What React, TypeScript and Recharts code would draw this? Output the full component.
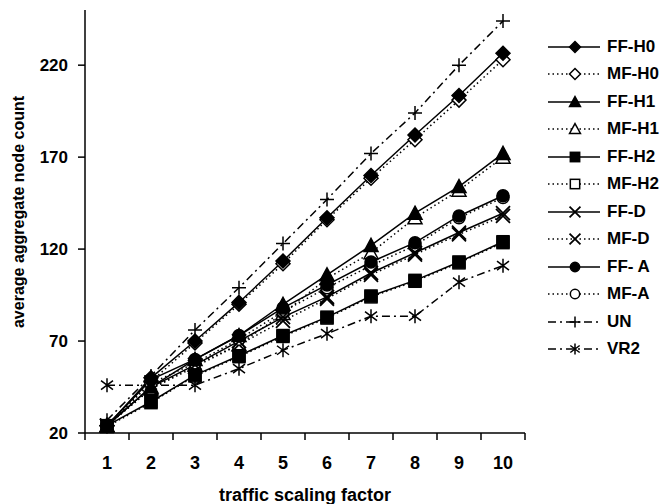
import React from "react";
import { LineChart, Line, XAxis, YAxis, Legend } from "recharts";

// traffic scaling factor vs. average aggregate node count, 12 series
const X_VALUES = [1, 2, 3, 4, 5, 6, 7, 8, 9, 10];
const Y_TICKS = [20, 70, 120, 170, 220];

const FF_H0 = [24, 50, 70, 91, 113.5, 137, 160, 182, 203.5, 226.5];
const MF_H0 = [24, 48, 69, 90, 112, 136, 158.5, 179.5, 201, 223];
const FF_H1 = [24, 45, 60, 73, 90, 106, 122, 139.5, 154, 172];
const MF_H1 = [24, 44, 57, 68, 85, 104, 118, 137, 152, 170];
const FF_H2 = [24, 37, 51.5, 62, 73, 83, 94.5, 103, 113, 124];
const MF_H2 = [23.5, 36.5, 51, 61.5, 72.5, 82.5, 94, 102.5, 112.5, 123.5];
const FF_D = [24, 45, 57, 70, 83, 94, 107, 118, 129, 139.5];
const MF_D = [24, 44, 56, 68, 81, 93, 106, 117, 128, 138];
const FF_A = [24, 49, 60, 73, 88, 100.5, 113, 123.5, 138, 149];
const MF_A = [24, 47, 58, 71, 86, 99, 111, 122, 137, 148];
const UN = [27, 51, 76, 99, 123, 147, 172, 194, 220, 244];
const VR2 = [46, 46, 46, 55, 65, 74, 83.5, 83.5, 102, 111];

type Shape = "diamond" | "triangle" | "square" | "cross" | "circle" | "plus" | "star";

interface SeriesDef {
  key: string;
  label: string;
  values: number[];
  shape: Shape;
  filled: boolean;
  dash?: string;
}

const DOTTED = "1.5 3";
const DASHDOT = "8 4 2 4";

const SERIES: SeriesDef[] = [
  { key: "ffh0", label: "FF-H0", values: FF_H0, shape: "diamond", filled: true },
  { key: "mfh0", label: "MF-H0", values: MF_H0, shape: "diamond", filled: false, dash: DOTTED },
  { key: "ffh1", label: "FF-H1", values: FF_H1, shape: "triangle", filled: true },
  { key: "mfh1", label: "MF-H1", values: MF_H1, shape: "triangle", filled: false, dash: DOTTED },
  { key: "ffh2", label: "FF-H2", values: FF_H2, shape: "square", filled: true },
  { key: "mfh2", label: "MF-H2", values: MF_H2, shape: "square", filled: false, dash: DOTTED },
  { key: "ffd", label: "FF-D", values: FF_D, shape: "cross", filled: true },
  { key: "mfd", label: "MF-D", values: MF_D, shape: "cross", filled: false, dash: DOTTED },
  { key: "ffa", label: "FF- A", values: FF_A, shape: "circle", filled: true },
  { key: "mfa", label: "MF-A", values: MF_A, shape: "circle", filled: false, dash: DOTTED },
  { key: "un", label: "UN", values: UN, shape: "plus", filled: true, dash: DASHDOT },
  { key: "vr2", label: "VR2", values: VR2, shape: "star", filled: true, dash: DASHDOT },
];

// MF (open markers) underneath, FF on top, as in the original
const DRAW_ORDER = [...SERIES.filter((s) => s.dash === DOTTED), ...SERIES.filter((s) => s.dash !== DOTTED)];

const data = X_VALUES.map((x, i) => {
  const row: Record<string, number> = { x };
  SERIES.forEach((s) => (row[s.key] = s.values[i]));
  return row;
});

const INK = "#000";
const FONT = "'Liberation Sans', Arial, sans-serif";
const PLOT_W = 440;
const HALF_BAND = PLOT_W / X_VALUES.length / 2;
const X_TICK_OFFSET = 23;

function Marker({ cx, cy, shape, filled, k = 1 }: { cx: number; cy: number; shape: Shape; filled: boolean; k?: number }) {
  if (cx == null || cy == null) return null;
  const fill = filled ? INK : "#fff";
  const r = 7 * k;
  switch (shape) {
    case "diamond":
      return (
        <polygon
          points={`${cx},${cy - r} ${cx + r},${cy} ${cx},${cy + r} ${cx - r},${cy}`}
          fill={fill}
          stroke={INK}
          strokeWidth={1.5}
        />
      );
    case "triangle":
      return (
        <polygon
          points={`${cx},${cy - r} ${cx + r},${cy + r - 1} ${cx - r},${cy + r - 1}`}
          fill={fill}
          stroke={INK}
          strokeWidth={1.5}
        />
      );
    case "square":
      return <rect x={cx - 6 * k} y={cy - 6 * k} width={12 * k} height={12 * k} fill={fill} stroke={INK} strokeWidth={1.5} />;
    case "circle":
      return <circle cx={cx} cy={cy} r={6 * k} fill={fill} stroke={INK} strokeWidth={1.5} />;
    case "cross":
      return (
        <path d={`M${cx - r},${cy - r}L${cx + r},${cy + r}M${cx - r},${cy + r}L${cx + r},${cy - r}`} stroke={INK} strokeWidth={1.8} />
      );
    case "plus":
      return <path d={`M${cx - r},${cy}L${cx + r},${cy}M${cx},${cy - r}L${cx},${cy + r}`} stroke={INK} strokeWidth={1.5} />;
    case "star":
      return (
        <path
          d={`M${cx},${cy - r}L${cx},${cy + r}M${cx - 6 * k},${cy - 4.5 * k}L${cx + 6 * k},${cy + 4.5 * k}M${cx - 6 * k},${cy + 4.5 * k}L${cx + 6 * k},${cy - 4.5 * k}`}
          stroke={INK}
          strokeWidth={1.5}
        />
      );
  }
  return null;
}

function XTick({ x = 0, y = 0, payload, index }: { x?: number; y?: number; payload?: { value?: number }; index?: number }) {
  const axisY = y - X_TICK_OFFSET;
  return (
    <g>
      <line x1={x + HALF_BAND} x2={x + HALF_BAND} y1={axisY} y2={axisY + 7} stroke={INK} strokeWidth={1.5} />
      {index === 0 && <line x1={x - HALF_BAND} x2={x - HALF_BAND} y1={axisY} y2={axisY + 7} stroke={INK} strokeWidth={1.5} />}
      <text x={x} y={y} textAnchor="middle" dy="0.71em" fill={INK} fontSize={18} fontWeight={700} fontFamily={FONT}>
        {payload?.value}
      </text>
    </g>
  );
}

function LegendBox() {
  return (
    <div style={{ width: 124, fontFamily: FONT }}>
      {SERIES.map((s) => (
        <div key={s.key} style={{ display: "flex", alignItems: "center", height: 27.5 }}>
          <svg width={58} height={20} style={{ display: "block" }}>
            <line x1={2} x2={54} y1={10} y2={10} stroke={INK} strokeWidth={1.5} strokeDasharray={s.dash} />
            <Marker cx={29} cy={10} shape={s.shape} filled={s.filled} k={0.78} />
          </svg>
          <span style={{ marginLeft: 3, fontSize: 17, fontWeight: 700, color: INK, whiteSpace: "pre" }}>{s.label}</span>
        </div>
      ))}
    </div>
  );
}

export default function App() {
  return (
    <div style={{ position: "fixed", left: 0, top: 0, width: 669, height: 504, background: "#fff", fontFamily: FONT }}>
      <LineChart width={669} height={504} data={data} margin={{ top: 10, right: 20, bottom: 0, left: 0 }}>
        <XAxis
          dataKey="x"
          type="number"
          domain={[0.5, 10.5]}
          ticks={X_VALUES}
          interval={0}
          height={71}
          tickSize={0}
          tickMargin={X_TICK_OFFSET}
          tick={<XTick />}
          axisLine={{ stroke: INK, strokeWidth: 1.5 }}
          label={{
            value: "traffic scaling factor",
            position: "insideBottom",
            offset: 3,
            fill: INK,
            fontSize: 18,
            fontWeight: 700,
            fontFamily: FONT,
          }}
        />
        <YAxis
          type="number"
          domain={[20, 250]}
          ticks={Y_TICKS}
          interval={0}
          width={85}
          tickSize={7}
          tickMargin={10}
          tick={{ fill: INK, fontSize: 17, fontWeight: 700, fontFamily: FONT }}
          tickLine={{ stroke: INK, strokeWidth: 1.5 }}
          axisLine={{ stroke: INK, strokeWidth: 1.5 }}
          label={{
            content: () => (
              <text
                x={18}
                y={212}
                transform="rotate(-90 18 212)"
                textAnchor="middle"
                dominantBaseline="central"
                fill={INK}
                fontSize={16}
                fontWeight={700}
                fontFamily={FONT}
              >
                average aggregate node count
              </text>
            ),
          }}
        />
        <Legend
          layout="vertical"
          align="right"
          verticalAlign="top"
          content={() => <LegendBox />}
          wrapperStyle={{ left: 546, top: 33, width: 124 }}
        />
        {DRAW_ORDER.map((s) => (
          <Line
            key={s.key}
            dataKey={s.key}
            name={s.label}
            stroke={INK}
            strokeWidth={1.5}
            strokeDasharray={s.dash}
            isAnimationActive={false}
            dot={(p: any) => <Marker key={`${s.key}-${p.index}`} cx={p.cx} cy={p.cy} shape={s.shape} filled={s.filled} />}
            activeDot={false}
          />
        ))}
      </LineChart>
    </div>
  );
}
